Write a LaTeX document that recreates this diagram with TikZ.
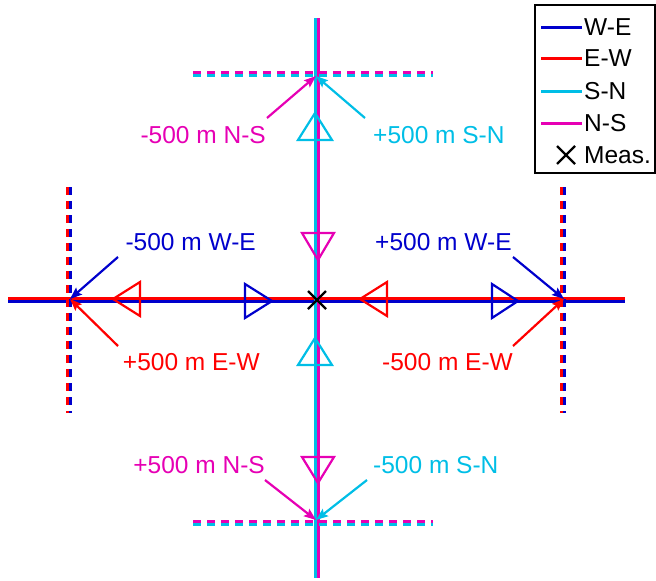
\documentclass[tikz,border=0pt]{standalone}
\usepackage{fontspec}
\setmainfont{Liberation Sans}
\usetikzlibrary{arrows.meta}
\definecolor{we}{RGB}{0,0,204}
\definecolor{ew}{RGB}{255,0,0}
\definecolor{sn}{RGB}{0,190,230}
\definecolor{ns}{RGB}{230,0,180}

\begin{document}
\begin{tikzpicture}[x=1pt, y=-1pt, >={Stealth[length=12pt,width=9pt,inset=2pt]},
  track/.style={line width=3pt},
  marker/.style={line width=2.2pt, line join=miter},
  offset/.style={line width=3pt, dash pattern=on 8pt off 6pt},
  lbl/.style={font=\fontsize{24.5}{27}\selectfont, inner sep=0pt},
  pointer/.style={->, line width=2.2pt}]
  \useasboundingbox (0,0) rectangle (656,581);
  % tracks
  \draw[track,ew] (8,298.5) -- (625,298.5);
  \draw[track,we] (8,301.5) -- (625,301.5);
  \draw[track,sn] (315,18) -- (315,578);
  \draw[track,ns] (318,18) -- (318,578);
  % offset lines
  \draw[offset,ew] (67.5,187) -- (67.5,413);
  \draw[offset,we] (70.5,187) -- (70.5,413);
  \draw[offset,ew] (561.5,187) -- (561.5,413);
  \draw[offset,we] (564.5,187) -- (564.5,413);
  \draw[offset,ns] (193,72.5) -- (433,72.5);
  \draw[offset,sn] (193,75.5) -- (433,75.5);
  \draw[offset,ns] (193,521.5) -- (433,521.5);
  \draw[offset,sn] (193,524.5) -- (433,524.5);
  % direction markers
  \draw[marker,ew] (113,299) -- (140,282) -- (140,316) -- cycle;
  \draw[marker,we] (272,301) -- (245,284) -- (245,318) -- cycle;
  \draw[marker,ew] (360,299) -- (387,282) -- (387,316) -- cycle;
  \draw[marker,we] (518,301) -- (492,284) -- (492,318) -- cycle;
  \draw[marker,sn] (315,113) -- (298,140) -- (332,140) -- cycle;
  \draw[marker,ns] (318,260) -- (302,233) -- (334,233) -- cycle;
  \draw[marker,sn] (315,338) -- (298,365) -- (332,365) -- cycle;
  \draw[marker,ns] (318,483) -- (302,457) -- (334,457) -- cycle;
  % measurement point
  \node (meas) at (317,300) {};
  \draw[black,line width=2.2pt] (308,291) -- (326,309) (308,309) -- (326,291);
  % offset points
  \coordinate (pw) at (70,299);
  \coordinate (pe) at (564,299);
  \coordinate (pn) at (316,76);
  \coordinate (ps) at (316,520);
  % labels
  \node[lbl,ns,anchor=base east] (nsm) at (266,143) {-500 m N-S};
  \node[lbl,sn,anchor=base west] (snp) at (373,143) {+500 m S-N};
  \node[lbl,we,anchor=base east] (wem) at (256,250) {-500 m W-E};
  \node[lbl,we,anchor=base west] (wep) at (375,250) {+500 m W-E};
  \node[lbl,ew,anchor=base east] (ewp) at (260,370) {+500 m E-W};
  \node[lbl,ew,anchor=base west] (ewm) at (382,370) {-500 m E-W};
  \node[lbl,ns,anchor=base east] (nsp) at (265,473) {+500 m N-S};
  \node[lbl,sn,anchor=base west] (snm) at (373,473) {-500 m S-N};
  % pointers
  \coordinate (tnsm) at (267,118);
  \coordinate (tsnp) at (365,118);
  \coordinate (twem) at (118,257);
  \coordinate (tewp) at (118,346);
  \coordinate (twep) at (513,257);
  \coordinate (tewm) at (513,346);
  \coordinate (tnsp) at (265,480);
  \coordinate (tsnm) at (367,480);
  \draw[pointer,ns] (tnsm) -- (pn);
  \draw[pointer,sn] (tsnp) -- (pn);
  \draw[pointer,we] (twem) -- (pw);
  \draw[pointer,ew] (tewp) -- (pw);
  \draw[pointer,we] (twep) -- (pe);
  \draw[pointer,ew] (tewm) -- (pe);
  \draw[pointer,ns] (tnsp) -- (ps);
  \draw[pointer,sn] (tsnm) -- (ps);
  % legend
  \node[draw,line width=2.2pt,minimum width=120pt,minimum height=168pt] (legend) at (595,89) {};
  \draw[track,we] (541,27) -- (582,27);
  \draw[track,ew] (541,58) -- (582,58);
  \draw[track,sn] (541,91) -- (582,91);
  \draw[track,ns] (541,123) -- (582,123);
  \draw[black,line width=2.2pt] (557,146) -- (575,164) (557,164) -- (575,146);
  \node[lbl,anchor=west] (kwe) at (584,27) {W-E};
  \node[lbl,anchor=west] (kew) at (584,58) {E-W};
  \node[lbl,anchor=west] (ksn) at (584,91) {S-N};
  \node[lbl,anchor=west] (kns) at (584,123) {N-S};
  \node[lbl,anchor=west] (kmeas) at (584,155) {Meas.};
\end{tikzpicture}
\end{document}
